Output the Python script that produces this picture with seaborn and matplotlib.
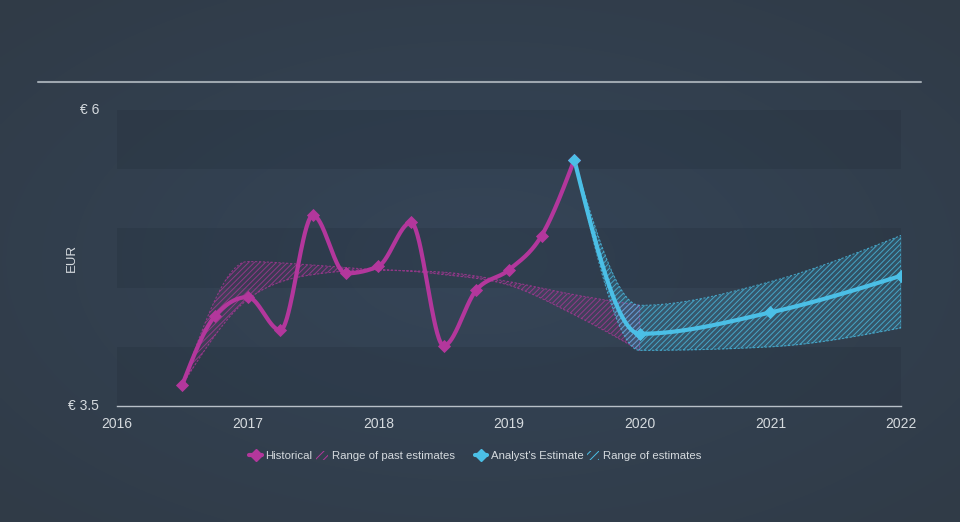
import numpy as np
import pandas as pd
import matplotlib
matplotlib.use("Agg")
import matplotlib.pyplot as plt
from matplotlib.lines import Line2D
from matplotlib.patches import Patch
import seaborn as sns

# ---------------- data ----------------
hist_x = [2016.5, 2016.75, 2017.0, 2017.25, 2017.5, 2017.75, 2018.0, 2018.25,
          2018.5, 2018.75, 2019.0, 2019.25, 2019.5]
hist_y = [3.68, 4.26, 4.42, 4.14, 5.11, 4.62, 4.68, 5.05, 4.01, 4.48, 4.65, 4.94, 5.58]

est_x = [2019.5, 2020.0, 2021.0, 2022.0]
est_y = [5.58, 4.11, 4.29, 4.60]
est_low = [5.58, 3.97, 4.00, 4.16]
est_high = [5.58, 4.35, 4.55, 4.94]

past_x = [2016.5, 2017.0, 2017.5, 2018.0, 2018.5, 2019.0, 2019.5, 2020.0]
past_low = [3.68, 4.40, 4.61, 4.65, 4.61, 4.52, 4.27, 3.97]
past_high = [3.68, 4.72, 4.69, 4.65, 4.63, 4.55, 4.44, 4.35]

year_ticks = [2016, 2017, 2018, 2019, 2020, 2021, 2022]
y_ticks = [3.5, 6]
y_tick_labels = ["€ 3.5", "€ 6"]

MAG = "#b3379c"
BLUE = "#4bbfe6"
TXT = "#d5dade"
BG = "#323f4e"


def monotone(x, y, n=40):
    """Monotone cubic (Steffen / d3 monotoneX) rendering of a polyline."""
    x = np.asarray(x, float); y = np.asarray(y, float)
    h = np.diff(x); s = np.diff(y) / h
    m = np.zeros_like(y)
    for i in range(1, len(x) - 1):
        p = (s[i - 1] * h[i] + s[i] * h[i - 1]) / (h[i - 1] + h[i])
        m[i] = (np.sign(s[i - 1]) + np.sign(s[i])) * min(abs(s[i - 1]), abs(s[i]), 0.5 * abs(p))
    if len(x) > 2:
        m[0] = (3 * s[0] - m[1]) / 2
        m[-1] = (3 * s[-1] - m[-2]) / 2
    else:
        m[0] = m[-1] = s[0]
    xs, ys = [], []
    for i in range(len(x) - 1):
        t = np.linspace(0, 1, n, endpoint=False)
        h00 = 2 * t**3 - 3 * t**2 + 1
        h10 = t**3 - 2 * t**2 + t
        h01 = -2 * t**3 + 3 * t**2
        h11 = t**3 - t**2
        xs.append(x[i] + t * h[i])
        ys.append(h00 * y[i] + h10 * h[i] * m[i] + h01 * y[i + 1] + h11 * h[i] * m[i + 1])
    xs.append([x[-1]]); ys.append([y[-1]])
    return np.concatenate(xs), np.concatenate(ys)


sns.set_theme(style="white")
plt.rcParams["font.family"] = ["Liberation Sans Narrow", "Liberation Sans", "DejaVu Sans"]
plt.rcParams["hatch.linewidth"] = 0.7

fig = plt.figure(figsize=(9.6, 5.22), dpi=100)
fig.patch.set_facecolor(BG)

# subtle radial background
bgax = fig.add_axes([0, 0, 1, 1], zorder=-10)
gx, gy = np.meshgrid(np.linspace(-1, 1, 300), np.linspace(-1, 1, 160))
r = np.sqrt((gx / 1.2) ** 2 + (gy / 1.2) ** 2)
r = r / r.max()
c0 = np.array(matplotlib.colors.to_rgb("#354558"))
c1 = np.array(matplotlib.colors.to_rgb("#303b47"))
img = c0[None, None, :] * (1 - r[..., None]) + c1[None, None, :] * r[..., None]
bgax.imshow(img, aspect="auto", extent=[0, 1, 0, 1], interpolation="bilinear")
bgax.axis("off")

ax = fig.add_axes([117 / 960, 1 - 406 / 522, (901 - 117) / 960, (406 - 110) / 522])
ax.set_facecolor("none")

# alternating bands
for lo in [3.5, 4.5, 5.5]:
    ax.axhspan(lo, lo + 0.5, color="#1f2a36", alpha=0.22, lw=0, zorder=0)

# past estimate range
px, pl = monotone(past_x, past_low)
_, ph = monotone(past_x, past_high)
ax.fill_between(px, pl, ph, facecolor=MAG, alpha=0.10, lw=0, zorder=1)
ax.fill_between(px, pl, ph, facecolor="none", edgecolor=MAG, hatch="//////",
                lw=0.8, linestyle=(0, (2, 1.5)), alpha=0.7, zorder=1)

# estimate range
ex, el = monotone(est_x, est_low)
_, eh = monotone(est_x, est_high)
ax.fill_between(ex, el, eh, facecolor=BLUE, alpha=0.18, lw=0, zorder=1)
ax.fill_between(ex, el, eh, facecolor="none", edgecolor=BLUE, hatch="//////",
                lw=0.8, linestyle=(0, (2, 1.5)), alpha=0.75, zorder=1)

# lines
hx, hy = monotone(hist_x, hist_y)
sns.lineplot(x=hx, y=hy, ax=ax, color=MAG, lw=3, sort=False, zorder=3)
sns.scatterplot(x=hist_x, y=hist_y, ax=ax, color=MAG, marker="D", s=45,
                edgecolor=MAG, linewidth=0, zorder=4)
fx, fy = monotone(est_x, est_y)
sns.lineplot(x=fx, y=fy, ax=ax, color=BLUE, lw=3, sort=False, zorder=3)
sns.scatterplot(x=est_x, y=est_y, ax=ax, color=BLUE, marker="D", s=45,
                edgecolor=BLUE, linewidth=0, zorder=4)

ax.set_xlim(2016, 2022)
ax.set_ylim(3.5, 6)
ax.set_xticks(year_ticks)
ax.set_xticklabels([str(v) for v in year_ticks], color=TXT, fontsize=10)
ax.set_yticks(y_ticks)
ax.set_yticklabels(y_tick_labels, color=TXT, fontsize=10)
ax.tick_params(axis="x", direction="out", length=9, width=1, color="#b8c0c8", pad=-1)
ax.tick_params(axis="y", length=0, pad=13)
for lab in ax.get_yticklabels():
    lab.set_verticalalignment("center")
for sp in ["top", "right", "left"]:
    ax.spines[sp].set_visible(False)
ax.spines["bottom"].set_color("#b8c0c8")
ax.spines["bottom"].set_linewidth(1)
ax.set_xlabel("")
ax.set_ylabel("EUR", color=TXT, fontsize=9.5, labelpad=4)
ax.yaxis.set_label_coords(-0.05, 0.5)
ax.grid(False)

# top rule
fig.add_artist(Line2D([38 / 960, 921 / 960], [1 - 82 / 522] * 2, color="#9ea7af", lw=1.5))

# legends
h1 = [Line2D([0], [0], color=MAG, lw=3, marker="D", markersize=6),
      Patch(facecolor="none", edgecolor=MAG, hatch="////", lw=0)]
h2 = [Line2D([0], [0], color=BLUE, lw=3, marker="D", markersize=6),
      Patch(facecolor="none", edgecolor=BLUE, hatch="////", lw=0)]
kw = dict(ncol=2, frameon=False, fontsize=8.2, labelcolor=TXT, handlelength=1.1,
          handletextpad=0.3, columnspacing=0.3, handleheight=0.9)
fig.legend(h1, ["Historical", "Range of past estimates"], loc="center",
           bbox_to_anchor=(352 / 960, 1 - 456 / 522), **kw)
fig.legend(h2, ["Analyst's Estimate", "Range of estimates"], loc="center",
           bbox_to_anchor=(588 / 960, 1 - 456 / 522), **kw)

fig.savefig("out.png", dpi=100, facecolor=fig.get_facecolor())
